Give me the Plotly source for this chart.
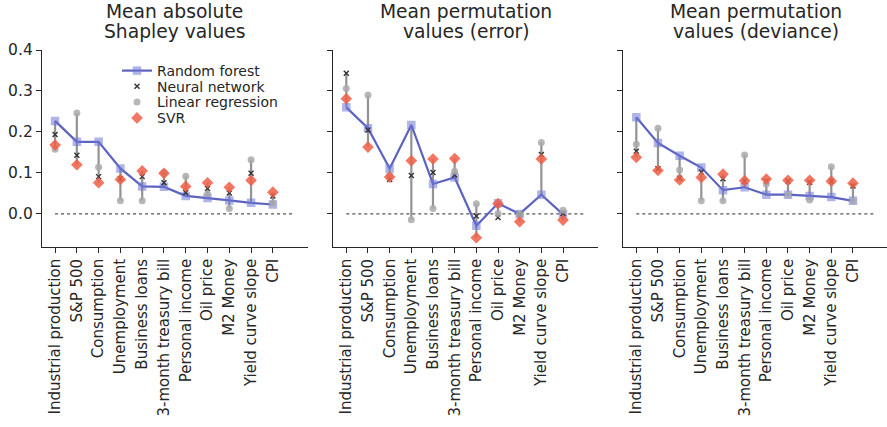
import plotly.graph_objects as go

categories = ["Industrial production", "S&P 500", "Consumption", "Unemployment",
              "Business loans", "3-month treasury bill", "Personal income",
              "Oil price", "M2 Money", "Yield curve slope", "CPI"]

titles = ["Mean absolute<br>Shapley values",
          "Mean permutation<br>values (error)",
          "Mean permutation<br>values (deviance)"]

# Panel 1: mean absolute Shapley values
shap_rf = [0.227, 0.176, 0.176, 0.111, 0.067, 0.066, 0.044, 0.039, 0.033, 0.027, 0.023]
shap_nn = [0.194, 0.143, 0.091, 0.086, 0.091, 0.076, 0.052, 0.062, 0.051, 0.099, 0.044]
shap_lr = [0.158, 0.246, 0.114, 0.032, 0.032, 0.101, 0.092, 0.049, 0.013, 0.132, 0.026]
shap_svr = [0.168, 0.120, 0.076, 0.084, 0.105, 0.099, 0.067, 0.076, 0.065, 0.082, 0.053]

# Panel 2: mean permutation values (error)
perr_rf = [0.260, 0.209, 0.111, 0.217, 0.073, 0.089, -0.029, 0.026, 0.000, 0.047, -0.001]
perr_nn = [0.343, 0.205, 0.084, 0.094, 0.101, 0.095, -0.005, -0.009, 0.000, 0.145, 0.001]
perr_lr = [0.306, 0.290, 0.095, -0.014, 0.013, 0.104, 0.025, 0.001, 0.000, 0.174, 0.009]
perr_svr = [0.281, 0.163, 0.090, 0.130, 0.134, 0.135, -0.058, 0.025, -0.019, 0.134, -0.015]

# Panel 3: mean permutation values (deviance)
pdev_rf = [0.236, 0.173, 0.142, 0.113, 0.058, 0.065, 0.047, 0.047, 0.044, 0.041, 0.032]
pdev_nn = [0.153, 0.110, 0.087, 0.102, 0.086, 0.080, 0.080, 0.080, 0.077, 0.080, 0.068]
pdev_lr = [0.170, 0.209, 0.107, 0.032, 0.032, 0.144, 0.073, 0.047, 0.034, 0.115, 0.032]
pdev_svr = [0.138, 0.106, 0.083, 0.089, 0.097, 0.081, 0.085, 0.082, 0.082, 0.080, 0.075]

panels = [
    (shap_rf, shap_nn, shap_lr, shap_svr),
    (perr_rf, perr_nn, perr_lr, perr_svr),
    (pdev_rf, pdev_nn, pdev_lr, pdev_svr),
]

FONT = "DejaVu Sans"
TXT = "#262626"
RF_COL = "#5d63c0"
W, H = 887, 427


def px(xr):
    return xr / W


def py(yr):
    return 1 - yr / H


x_ref = [(42, 307.7), (333.3, 597.7), (623.3, 887.0)]
x_doms = [(px(a), px(b)) for a, b in x_ref]
x_rngs = [[-0.6, 11.6], [-0.6, 11.6], [-0.6, 11.57]]
y_dom = (py(246.7), py(50))

fig = go.Figure()
xs = list(range(len(categories)))

for i, (rf, nn, lr, svr) in enumerate(panels):
    xa = "x" if i == 0 else f"x{i+1}"
    ya = "y" if i == 0 else f"y{i+1}"
    fig.add_trace(go.Scatter(x=[0, len(categories)], y=[0, 0], mode="lines",
                             line=dict(color="#555555", width=1.2, dash="dot"),
                             showlegend=False, hoverinfo="skip", xaxis=xa, yaxis=ya))
    vx, vy = [], []
    for k in xs:
        vals = [rf[k], nn[k], lr[k], svr[k]]
        vx += [k, k, None]
        vy += [min(vals), max(vals), None]
    fig.add_trace(go.Scatter(x=vx, y=vy, mode="lines",
                             line=dict(color="rgba(128,128,128,0.85)", width=2.2),
                             showlegend=False, hoverinfo="skip", xaxis=xa, yaxis=ya))
    show = i == 0
    fig.add_trace(go.Scatter(x=xs, y=rf, mode="lines+markers", name="Random forest",
                             line=dict(color=RF_COL, width=2.2),
                             marker=dict(symbol="square", size=8.5, color="rgba(110,118,215,0.55)",
                                         line=dict(width=0)),
                             showlegend=show, legend="legend", xaxis=xa, yaxis=ya))
    fig.add_trace(go.Scatter(x=xs, y=nn, mode="markers", name="Neural network",
                             marker=dict(symbol="x-thin", size=5, color="#333333",
                                         line=dict(width=1.4, color="#333333")),
                             showlegend=show, legend="legend2", xaxis=xa, yaxis=ya))
    fig.add_trace(go.Scatter(x=xs, y=lr, mode="markers", name="Linear regression",
                             marker=dict(symbol="circle", size=7, color="rgba(170,170,170,0.85)",
                                         line=dict(width=0)),
                             showlegend=show, legend="legend3", xaxis=xa, yaxis=ya))
    fig.add_trace(go.Scatter(x=xs, y=svr, mode="markers", name="SVR",
                             marker=dict(symbol="diamond", size=9, color="rgba(238,95,70,0.85)",
                                         line=dict(width=0)),
                             showlegend=show, legend="legend4", xaxis=xa, yaxis=ya))

leg_common = dict(xanchor="left", yanchor="middle", bgcolor="rgba(0,0,0,0)",
                  font=dict(size=14, family=FONT, color=TXT), itemwidth=30,
                  borderwidth=0)
LX = 117
layout = dict(
    width=W, height=H,
    margin=dict(l=0, r=0, t=0, b=0, autoexpand=False),
    paper_bgcolor="white", plot_bgcolor="white",
    font=dict(family=FONT, size=15, color=TXT),
    showlegend=True,
    legend=dict(x=px(LX), y=py(71), **leg_common),
    legend2=dict(x=px(LX), y=py(86.7), **leg_common),
    legend3=dict(x=px(LX), y=py(102.3), **leg_common),
    legend4=dict(x=px(LX), y=py(118.3), **leg_common),
)

annotations = []
for i in range(3):
    xkey = "xaxis" if i == 0 else f"xaxis{i+1}"
    ykey = "yaxis" if i == 0 else f"yaxis{i+1}"
    layout[xkey] = dict(
        domain=list(x_doms[i]), anchor="y" if i == 0 else f"y{i+1}",
        range=x_rngs[i], tickmode="array", tickvals=xs, ticktext=categories,
        tickangle=-90, ticks="outside", ticklen=5, tickwidth=1.2, tickcolor=TXT,
        showline=True, linecolor=TXT, linewidth=1.3, showgrid=False, zeroline=False,
        tickfont=dict(size=15, family=FONT, color=TXT), automargin=False,
    )
    layout[ykey] = dict(
        domain=list(y_dom), anchor="x" if i == 0 else f"x{i+1}",
        range=[-0.08, 0.4], tickvals=[0.0, 0.1, 0.2, 0.3, 0.4],
        ticktext=["0.0", "0.1", "0.2", "0.3", "0.4"],
        showticklabels=(i == 0),
        ticks="outside", ticklen=5, tickwidth=1.2, tickcolor=TXT,
        showline=True, linecolor=TXT, linewidth=1.3, showgrid=False, zeroline=False,
        tickfont=dict(size=15.5, family=FONT, color=TXT), automargin=False,
    )
    cx = px(x_ref[i][0] + 265.7 / 2)
    l1, l2 = titles[i].split("<br>")
    annotations.append(dict(text=l1, x=cx, y=py(11), xref="paper", yref="paper",
                            xanchor="center", yanchor="middle", showarrow=False,
                            font=dict(size=18.7, family=FONT, color=TXT)))
    annotations.append(dict(text=l2, x=cx, y=py(32), xref="paper", yref="paper",
                            xanchor="center", yanchor="middle", showarrow=False,
                            font=dict(size=18.7, family=FONT, color=TXT)))

layout["annotations"] = annotations
fig.update_layout(**layout)
fig.write_html("out.html", config={"displayModeBar": False},
               post_script="document.body.style.margin='0';document.body.style.overflow='hidden';")
